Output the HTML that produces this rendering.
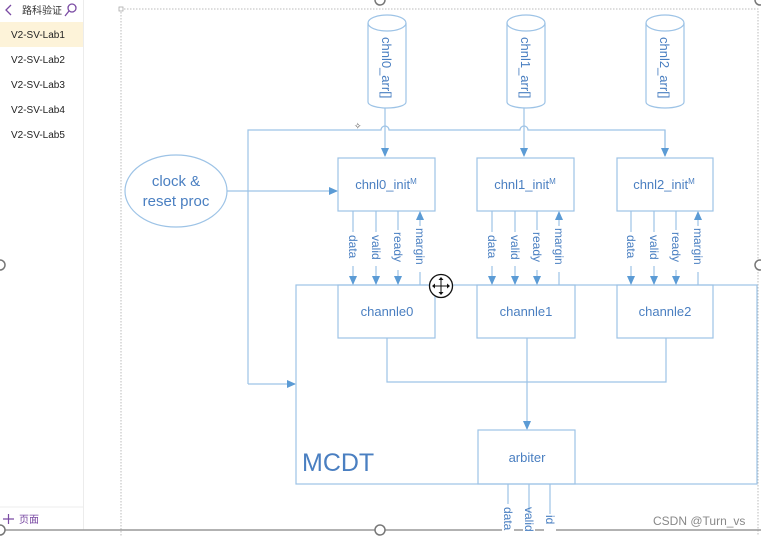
<!DOCTYPE html>
<html><head><meta charset="utf-8"><style>
html,body{margin:0;padding:0;background:#fff;width:761px;height:536px;overflow:hidden}
svg{display:block}
</style></head><body>
<svg width="761" height="536" viewBox="0 0 761 536" xmlns="http://www.w3.org/2000/svg" font-family="Liberation Sans, Noto Sans CJK SC, sans-serif">
<defs>
<marker id="a" markerWidth="10" markerHeight="10" refX="8" refY="4" orient="auto" markerUnits="userSpaceOnUse">
<path d="M0,0 L9,4 L0,8 z" fill="#5b9bd5"/></marker>
</defs>
<!-- sidebar -->
<rect x="0" y="0" width="83" height="536" fill="#fff"/>
<rect x="0" y="22" width="83" height="25" fill="#fdf3d9"/>
<line x1="83.5" y1="0" x2="83.5" y2="530" stroke="#ececec"/>
<path d="M11,5 L6,10 L11,15" stroke="#7a4aa3" stroke-width="1.3" fill="none"/>
<text x="22" y="14" font-size="10" fill="#333">路科验证</text>
<circle cx="72" cy="8" r="4" stroke="#7a4aa3" stroke-width="1.3" fill="none"/>
<line x1="69" y1="11" x2="65" y2="16" stroke="#7a4aa3" stroke-width="1.3"/>
<g font-size="10" fill="#222">
<text x="11" y="38">V2-SV-Lab1</text>
<text x="11" y="63">V2-SV-Lab2</text>
<text x="11" y="88">V2-SV-Lab3</text>
<text x="11" y="113">V2-SV-Lab4</text>
<text x="11" y="138">V2-SV-Lab5</text>
</g>
<line x1="0" y1="507" x2="83" y2="507" stroke="#eee"/>
<path d="M3,519 H14 M8.5,514 V524" stroke="#7a4aa3" stroke-width="1.2"/>
<text x="19" y="523" font-size="10" fill="#7a4aa3">页面</text>
<!-- frame -->
<path d="M121,9 H758 V536 M121,9 V536" stroke="#bbb" stroke-dasharray="1.5,1.5" fill="none"/>
<rect x="119" y="7" width="4" height="4" fill="#fff" stroke="#aaa" stroke-width="0.8"/>
<line x1="0" y1="530" x2="761" y2="530" stroke="#999" stroke-width="1.5"/>
<circle cx="0" cy="530" r="5" fill="#fff" stroke="#777" stroke-width="1.5"/>
<circle cx="380" cy="530" r="5" fill="#fff" stroke="#777" stroke-width="1.5"/>
<circle cx="0" cy="265" r="5" fill="#fff" stroke="#777" stroke-width="1.5"/>
<circle cx="760" cy="265" r="5" fill="#fff" stroke="#777" stroke-width="1.5"/>
<circle cx="380" cy="0" r="5" fill="#fff" stroke="#777" stroke-width="1.5"/>
<circle cx="760" cy="0" r="5" fill="#fff" stroke="#777" stroke-width="1.5"/>
<g stroke="#9dc3e6" fill="none" stroke-width="1.2">
<!-- cylinders -->
<g id="cy">
<path d="M368,23 V102 A19,6 0 0 0 406,102 V23"/>
<ellipse cx="387" cy="23" rx="19" ry="8"/>
</g>
<use href="#cy" x="139"/>
<use href="#cy" x="278"/>
<!-- bus -->
<path d="M248,384 V130 H381 A4,4 0 0 1 389,130 H520 A4,4 0 0 1 528,130 H665 V156" stroke="#9dc3e6"/>
<line x1="385" y1="108" x2="385" y2="156" marker-end="url(#a)"/>
<line x1="524" y1="108" x2="524" y2="156" marker-end="url(#a)"/>
<line x1="248" y1="384" x2="295" y2="384" marker-end="url(#a)"/>
<path d="M665,130 V156" marker-end="url(#a)"/>
<!-- ellipse -->
<ellipse cx="176" cy="191" rx="51" ry="36"/>
<line x1="227" y1="191" x2="337" y2="191" marker-end="url(#a)"/>
<!-- init boxes -->
<rect x="338" y="158" width="97" height="53"/>
<rect x="477" y="158" width="97" height="53"/>
<rect x="617" y="158" width="96" height="53"/>
<!-- MCDT -->
<rect x="296" y="285" width="461" height="199"/>
<rect x="338" y="285" width="97" height="53"/>
<rect x="477" y="285" width="98" height="53"/>
<rect x="617" y="285" width="96" height="53"/>
<path d="M387,338 V382 H666 V338"/>
<line x1="527" y1="338" x2="527" y2="429" marker-end="url(#a)"/>
<rect x="478" y="430" width="97" height="54"/>
<line x1="508" y1="484" x2="508" y2="536"/>
<line x1="529" y1="484" x2="529" y2="536"/>
<line x1="550" y1="484" x2="550" y2="536"/>
</g>
<!-- signal arrows -->
<g id="sg" stroke="#9dc3e6" stroke-width="1.2" fill="none">
<line x1="353" y1="211" x2="353" y2="284" marker-end="url(#a)"/>
<line x1="376" y1="211" x2="376" y2="284" marker-end="url(#a)"/>
<line x1="398" y1="211" x2="398" y2="284" marker-end="url(#a)"/>
<line x1="420" y1="285" x2="420" y2="212" marker-end="url(#a)"/>
</g>
<use href="#sg" x="139"/>
<use href="#sg" x="278"/>
<g font-size="12" fill="#4a7fc1">
<g id="sl">
<rect x="347" y="232" width="12" height="34" fill="#fff"/>
<rect x="370" y="232" width="12" height="34" fill="#fff"/>
<rect x="392" y="230" width="12" height="40" fill="#fff"/>
<rect x="414" y="226" width="12" height="46" fill="#fff"/>
<text transform="translate(349,235) rotate(90)">data</text>
<text transform="translate(372,235) rotate(90)">valid</text>
<text transform="translate(394,232) rotate(90)">ready</text>
<text transform="translate(416,228) rotate(90)">margin</text>
</g>
<use href="#sl" x="139"/>
<use href="#sl" x="278"/>
<g font-size="13">
<text transform="translate(382,37) rotate(90)">chnl0_arr[]</text>
<text transform="translate(521,37) rotate(90)">chnl1_arr[]</text>
<text transform="translate(660,37) rotate(90)">chnl2_arr[]</text>
<text x="386" y="189" text-anchor="middle">chnl0_init<tspan font-size="8" dy="-5">M</tspan></text>
<text x="525" y="189" text-anchor="middle">chnl1_init<tspan font-size="8" dy="-5">M</tspan></text>
<text x="664" y="189" text-anchor="middle">chnl2_init<tspan font-size="8" dy="-5">M</tspan></text>
</g>
<g font-size="13" text-anchor="middle">
<text x="387" y="316">channle0</text>
<text x="526" y="316">channle1</text>
<text x="665" y="316">channle2</text>
<text x="527" y="462">arbiter</text>
</g>
<text x="176" y="186" font-size="15" text-anchor="middle">clock &amp;</text>
<text x="176" y="206" font-size="15" text-anchor="middle">reset proc</text>
<text x="302" y="471" font-size="25">MCDT</text>
<g font-size="12">
<rect x="502" y="504" width="12" height="32" fill="#fff"/>
<rect x="523" y="514" width="12" height="22" fill="#fff"/>
<rect x="544" y="514" width="12" height="22" fill="#fff"/>
<text transform="translate(504,507) rotate(90)">data</text>
<text transform="translate(525,507) rotate(90)">valid</text>
<text transform="translate(546,515) rotate(90)">id</text>
</g>
</g>
<!-- move cursor -->
<circle cx="441" cy="286" r="11.5" fill="#fff" stroke="#111" stroke-width="1.3"/>
<path d="M441,278 V294 M433,286 H449" stroke="#111" stroke-width="1"/>
<path d="M441,277 l-2.5,3 h5z M441,295 l-2.5,-3 h5z M432,286 l3,-2.5 v5z M450,286 l-3,-2.5 v5z" fill="#111"/>
<text x="354" y="129" font-size="9" fill="#555">✧</text>
<text x="653" y="525" font-size="12" fill="#888">CSDN @Turn_vs</text>
</svg>
</body></html>
